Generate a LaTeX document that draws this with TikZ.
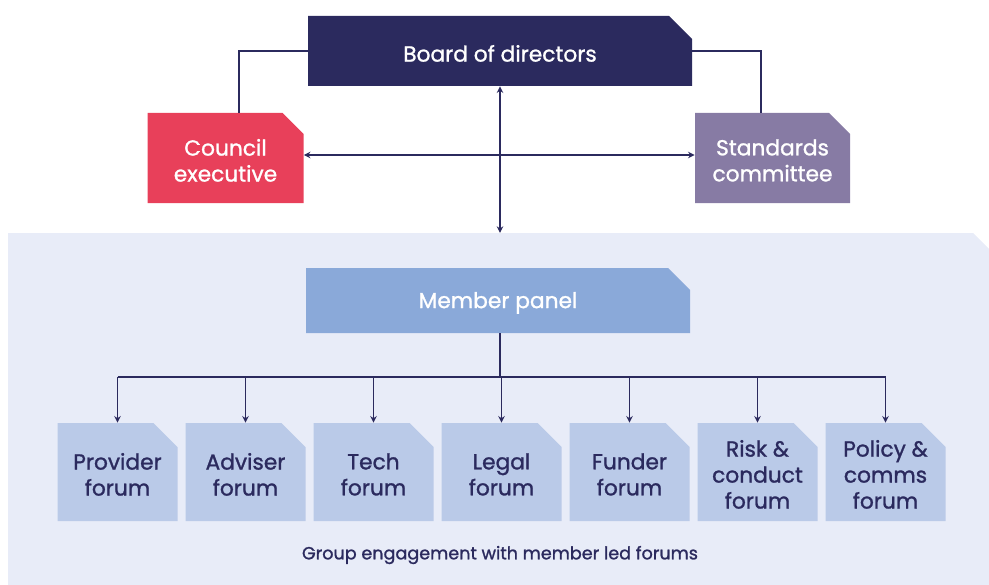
\documentclass[tikz,border=0pt]{standalone}
\usepackage{fontspec}
\setmainfont{Poppins}[FakeBold=1.2]
\usetikzlibrary{arrows.meta}

\definecolor{navy}{HTML}{2B2A5E}
\definecolor{councilred}{HTML}{E8405A}
\definecolor{stdpurple}{HTML}{877BA4}
\definecolor{panelbg}{HTML}{E8ECF8}
\definecolor{memberblue}{HTML}{8AA9D9}
\definecolor{forumblue}{HTML}{BACAE8}

\tikzset{
  cutbox/.style n args={4}{% fill colour, width, height, corner cut
    minimum width=#2, minimum height=#3, inner sep=0pt,
    path picture={
      \fill[#1] (path picture bounding box.south west)
        -- (path picture bounding box.south east)
        -- ([yshift=-#4]path picture bounding box.north east)
        -- ([xshift=-#4]path picture bounding box.north east)
        -- (path picture bounding box.north west) -- cycle;
    }},
  % box caption, set a touch below the geometric centre
  txt/.style={label={[align=center, yshift=-1.8pt, inner sep=0pt]center:#1}},
  whitetext/.style={every label/.append style={text=white, font=\fontsize{16.3}{19.5}\selectfont}},
  navytext/.style={every label/.append style={text=navy, font=\fontsize{16.3}{19.5}\selectfont}},
  forumbox/.style={cutbox={forumblue}{90pt}{73.5pt}{18pt}},
  link/.style={draw=navy, line width=1.4pt},
  tip/.style={-{Stealth[length=5pt,width=4.8pt]}},
  bitip/.style={{Stealth[length=5pt,width=4.8pt]}-{Stealth[length=5pt,width=4.8pt]}},
}

\begin{document}
\begin{tikzpicture}[x=0.75pt, y=-0.75pt]
\useasboundingbox (0,0) rectangle (989,585);

% light panel holding the member side
\fill[panelbg] (8,233) -- (973,233) -- (989,249) -- (989,585) -- (8,585) -- cycle;
\coordinate (paneltop) at (500,233);

% governance boxes
\begin{scope}[whitetext]
\node[cutbox={navy}{288pt}{52.5pt}{17.25pt}, txt={Board of directors}] (board) at (500,51) {};
\node[cutbox={councilred}{117pt}{67.5pt}{15.75pt}, txt={Council\\executive}] (council) at (225.5,158) {};
\node[cutbox={stdpurple}{116.25pt}{67.5pt}{15.75pt}, txt={Standards\\committee}] (standards) at (772.5,158) {};

% member panel
\node[cutbox={memberblue}{288pt}{48.75pt}{16.5pt}, txt={Member panel}] (member) at (498,300.5) {};
\end{scope}

% forums
\begin{scope}[navytext]
\node[forumbox, txt={Provider\\forum}] (f1) at (117.5,472) {};
\node[forumbox, txt={Adviser\\forum}] (f2) at (245.5,472) {};
\node[forumbox, txt={Tech\\forum}] (f3) at (373.5,472) {};
\node[forumbox, txt={Legal\\forum}] (f4) at (501.5,472) {};
\node[forumbox, txt={Funder\\forum}] (f5) at (629.5,472) {};
\node[forumbox, txt={Risk \&\\conduct\\forum}] (f6) at (757.5,472) {};
\node[forumbox, txt={Policy \&\\comms\\forum}] (f7) at (885.5,472) {};
\end{scope}

\node[text=navy, font=\fontsize{13.2}{16}\selectfont] (caption) at (500,555)
  {Group engagement with member led forums};

% board to council and standards
\draw[link] (board.west) -| ([xshift=10.1pt]council.north);
\draw[link] (board.east) -| ([xshift=-8.6pt]standards.north);

% council <-> standards, board <-> member side
\draw[link, bitip] ([yshift=2.25pt]council.east) -- ([yshift=2.25pt]standards.west);
\draw[link, bitip] (board.south) -- (paneltop);

% member panel fans out to forums
\coordinate (bus) at (500,377);
\draw[link] ([xshift=1.5pt]member.south) -- (bus);
\draw[link] (f1.north |- bus) -- (f7.north |- bus);
\foreach \f in {f1,f2,f3,f4,f5,f6,f7}
  \draw[link, tip] (\f.north |- bus) -- (\f.north);
\end{tikzpicture}
\end{document}
